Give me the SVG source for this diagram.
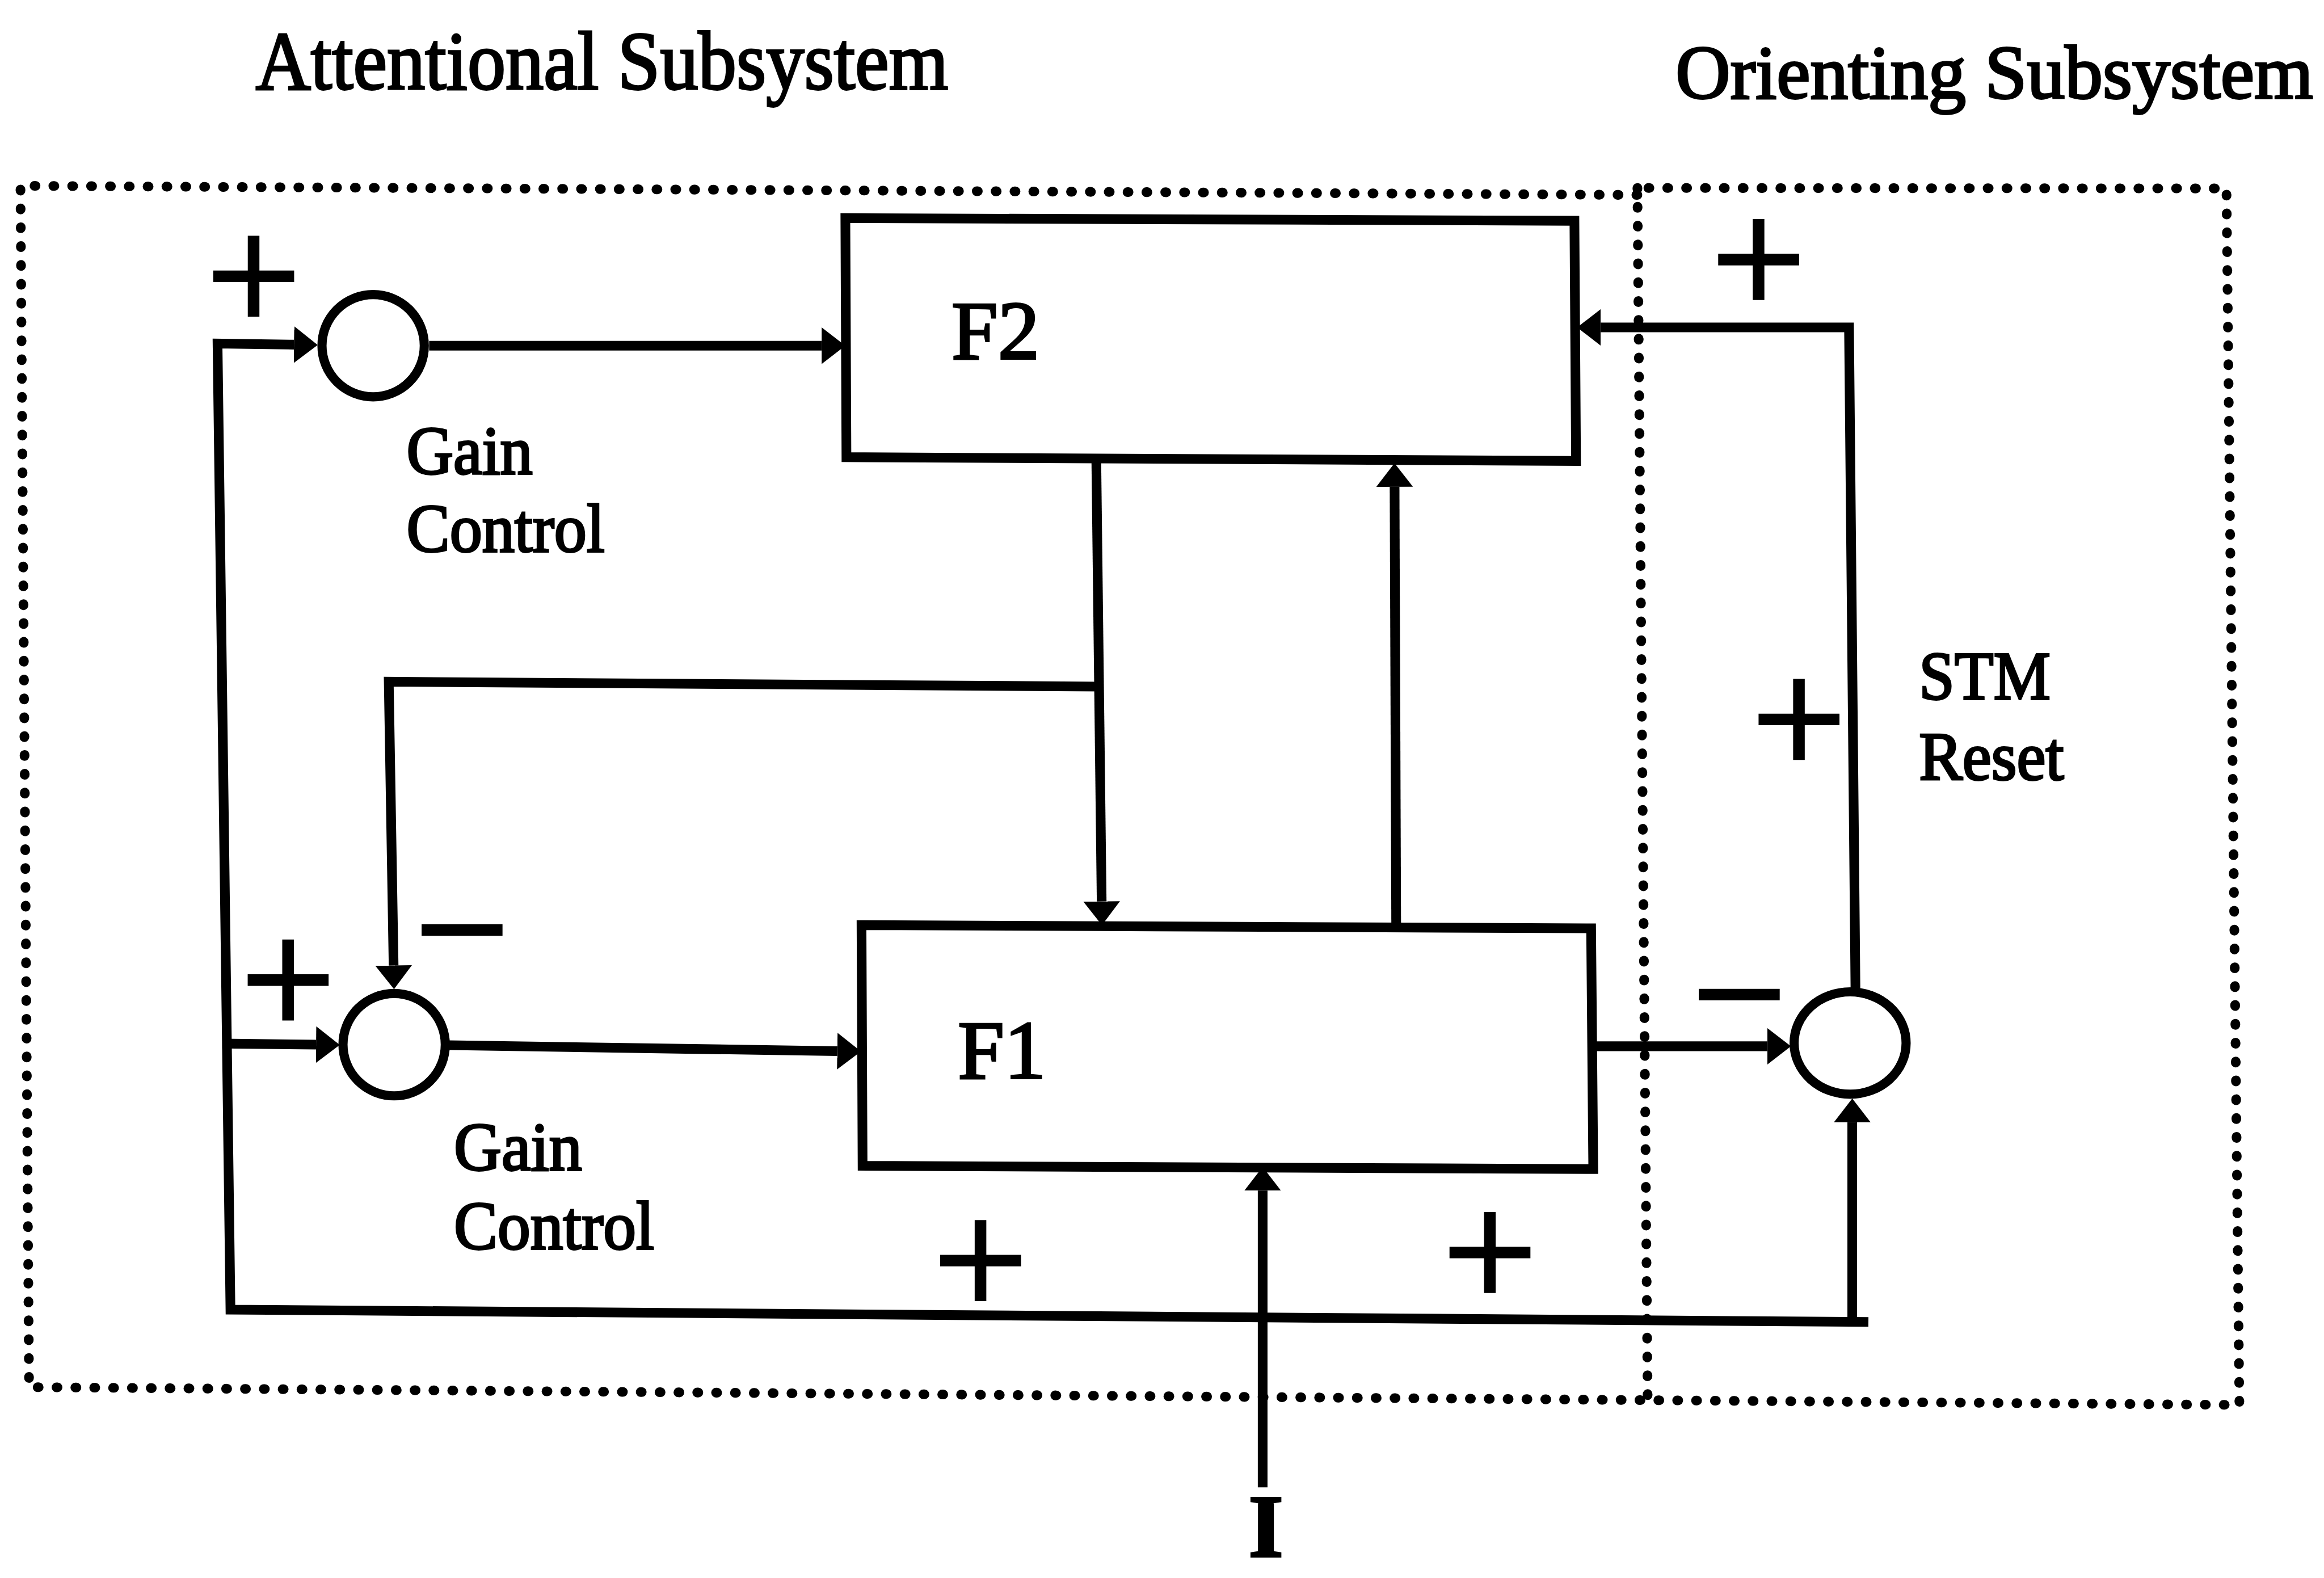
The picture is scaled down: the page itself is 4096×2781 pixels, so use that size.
<svg xmlns="http://www.w3.org/2000/svg" width="4096" height="2781" viewBox="0 0 4096 2781">
<defs>
<style>
.t{font-family:"Liberation Serif","Times New Roman",serif;fill:#000;stroke:#000;stroke-width:4}
.sg{font-family:"Liberation Serif","Times New Roman",serif;fill:#000;stroke:#000;stroke-width:6;font-size:310px;text-anchor:middle}
.ln{fill:none;stroke:#000;stroke-width:18;stroke-linejoin:miter}
.bx{fill:none;stroke:#000;stroke-width:18}
.cr{fill:#fff;stroke:#000;stroke-width:17}
.dt{fill:none;stroke:#000;stroke-width:18;stroke-dasharray:2 33;stroke-linecap:round}
</style>
<marker id="ah" viewBox="0 0 44 68" refX="0" refY="34" markerWidth="44" markerHeight="68" markerUnits="userSpaceOnUse" orient="auto">
<path d="M0,0 L44,34 L0,68 Z" fill="#000"/>
</marker>
</defs>
<rect width="4096" height="2781" fill="#fff"/>
<g transform="scale(0.949)">
<g id="titles">
<text class="t" x="475" y="165" font-size="155" textLength="1286" lengthAdjust="spacingAndGlyphs">Attentional Subsystem</text>
<text class="t" x="3112" y="182" font-size="141" textLength="1184" lengthAdjust="spacingAndGlyphs">Orienting Subsystem</text>
</g>
<g id="subsystem-frames">
<path class="dt" d="M3041,362 L38,345 L54,2576 L4159,2609 L4135,350 L3041,349"/>
<path class="dt" d="M3041,349 L3060,2596"/>
</g>
<g id="connectors">
<path class="ln" d="M3470,2455 L428,2432 L404,638 L546,640" marker-end="url(#ah)"/>
<path class="ln" d="M413,1938 L587,1940" marker-end="url(#ah)"/>
<path class="ln" d="M3440,2455 L3440,2084" marker-end="url(#ah)"/>
<path class="ln" d="M2345,2762 L2345,2211" marker-end="url(#ah)"/>
<path class="ln" d="M797,642 L1526,642" marker-end="url(#ah)"/>
<path class="ln" d="M834,1941 L1555,1952" marker-end="url(#ah)"/>
<path class="ln" d="M2036,850 L2046,1674" marker-end="url(#ah)"/>
<path class="ln" d="M2039,1275 L722,1266 L731,1793" marker-end="url(#ah)"/>
<path class="ln" d="M2593,1721 L2590,904" marker-end="url(#ah)"/>
<path class="ln" d="M2958,1943 L3282,1943" marker-end="url(#ah)"/>
<path class="ln" d="M3446,1842 L3434,608 L2973,608" marker-end="url(#ah)"/>
</g>
<g id="F2">
<polygon class="bx" points="1570,405 2924,410 2927,856 1572,849"/>
<text class="t" x="1767" y="666" font-size="155">F2</text>
</g>
<g id="F1">
<polygon class="bx" points="1600,1718 2955,1724 2959,2171 1602,2165"/>
<text class="t" x="1779" y="2002" font-size="155">F1</text>
</g>
<g id="gain-control-top">
<circle class="cr" cx="693" cy="642" r="95"/>
<text class="t" x="755" y="880" font-size="128" textLength="234" lengthAdjust="spacingAndGlyphs">Gain</text>
<text class="t" x="755" y="1024" font-size="128" textLength="368" lengthAdjust="spacingAndGlyphs">Control</text>
</g>
<g id="gain-control-bottom">
<circle class="cr" cx="732" cy="1940" r="95"/>
<text class="t" x="843" y="2173" font-size="128" textLength="238" lengthAdjust="spacingAndGlyphs">Gain</text>
<text class="t" x="843" y="2319" font-size="128" textLength="372" lengthAdjust="spacingAndGlyphs">Control</text>
</g>
<g id="stm-reset">
<ellipse class="cr" cx="3436" cy="1937" rx="104" ry="95"/>
<text class="t" x="3564" y="1298" font-size="128" textLength="244" lengthAdjust="spacingAndGlyphs">STM</text>
<text class="t" x="3564" y="1448" font-size="128" textLength="269" lengthAdjust="spacingAndGlyphs">Reset</text>
</g>
<g id="input">
<text class="t" x="2351" y="2890" font-size="166" font-weight="bold" text-anchor="middle" stroke-width="0">I</text>
</g>
<g id="signs">
<text class="sg" x="471" y="616">+</text>
<text class="sg" x="3266" y="585">+</text>
<text class="sg" x="535" y="1923">+</text>
<text class="sg" x="3341" y="1439">+</text>
<text class="sg" x="1821" y="2444">+</text>
<text class="sg" x="2767" y="2429">+</text>
<text class="sg" x="858" y="1830">−</text>
<text class="sg" x="3230" y="1950">−</text>
</g>
</g>
</svg>
